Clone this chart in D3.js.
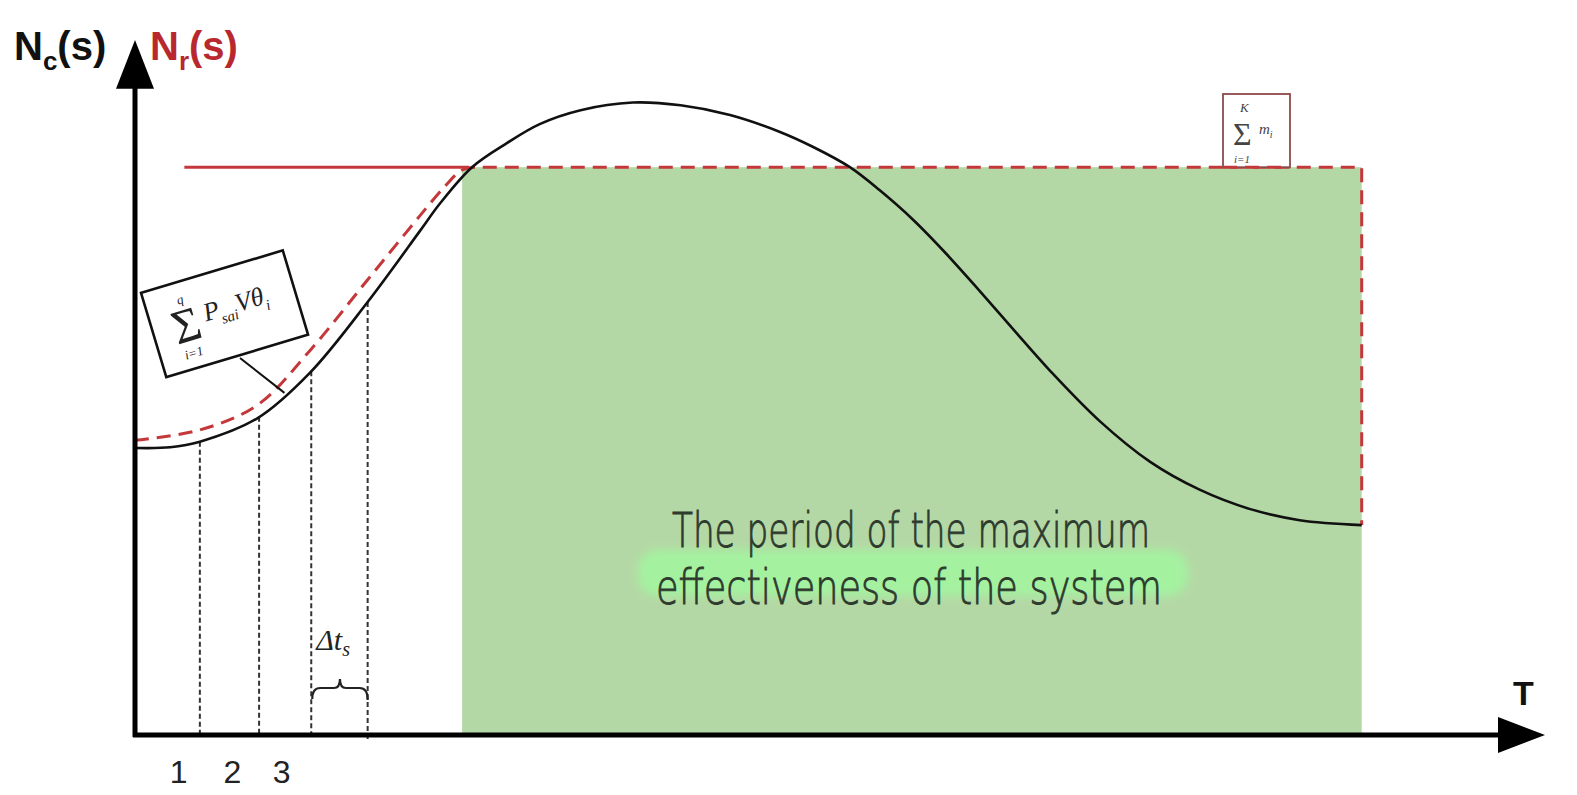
<!DOCTYPE html>
<html>
<head>
<meta charset="utf-8">
<script src="https://cdn.jsdelivr.net/npm/d3@7"></script>
<style>
  body { margin: 0; background: #fff; }
  svg { display: block; }
</style>
</head>
<body>
<div class="mainVis"></div>
<script>
// curve readings, T and N in arbitrary units (0..100 along each axis)
var curveT = [0, 2.5, 4.6, 8.7, 12.4, 16.5, 20.2, 21.6, 23.9, 26.4, 28.7, 31.6, 35.3, 38.7, 42.2, 45.7, 48.1, 50.7, 52.8, 55.2, 57.6, 59.9, 62.4, 64.9, 68.4, 72.0, 75.5, 79.1, 82.6, 87.0]
var curveN = [41.3, 41.4, 42.2, 45.6, 52.1, 62.3, 72.5, 76.4, 81.7, 85.2, 87.9, 89.9, 91.0, 90.6, 89.2, 86.8, 84.6, 81.7, 78.4, 74.1, 69.1, 63.9, 58.1, 52.4, 45.2, 39.3, 35.3, 32.5, 30.9, 30.2]

var reqT = [0, 4.6, 8.7, 12.4, 16.5, 20.2, 22.0, 23.2, 24.3]
var reqN = [42.4, 43.9, 47.5, 55.3, 65.5, 74.7, 79.0, 81.3, 81.7]

var levelN = 81.7
var levelStartT = 3.5
var periodStart = 23.2
var periodEnd = 87.0

var stepT = [4.6, 8.8, 12.5, 16.5]
var tickLabels = ["1", "2", "3"]
var tickT = [3.1, 6.9, 10.4]

var width = 1577
var height = 795

var svg = d3.select(".mainVis")
    .append("svg")
    .attr("width", width)
    .attr("height", height)

var x = d3.scaleLinear().domain([0, 100]).range([135, 1545])
var y = d3.scaleLinear().domain([0, 100]).range([735, 40])

var red = "#c4373a"

var defs = svg.append("defs")
defs.append("filter").attr("id", "glow")
    .attr("x", "-20%").attr("y", "-50%").attr("width", "140%").attr("height", "200%")
    .append("feGaussianBlur").attr("stdDeviation", 5)

// green period
svg.append("rect")
    .attr("x", x(periodStart))
    .attr("y", y(levelN))
    .attr("width", x(periodEnd) - x(periodStart))
    .attr("height", y(0) - y(levelN))
    .attr("fill", "#b4d8a5")

// glow behind the caption
svg.append("rect")
    .attr("x", 638).attr("y", 550)
    .attr("width", 550).attr("height", 46)
    .attr("rx", 20)
    .attr("fill", "#a4f2a0")
    .attr("filter", "url(#glow)")

var caption = ["The period of the maximum", "effectiveness of the system"]
var capLen = [478, 506]
var capX = [672, 656]
var capY = [547, 603.5]
var capText = svg.append("text")
    .style("font-family", "DejaVu Sans")
    .style("font-weight", 200)
    .style("font-size", "48px")
    .attr("fill", "#2e3a2e")
    .attr("stroke", "#2e3a2e")
    .attr("stroke-width", 0.9)
capText.selectAll("tspan")
    .data(caption)
    .enter()
    .append("tspan")
    .attr("x", function(d, i) { return capX[i]; })
    .attr("y", function(d, i) { return capY[i]; })
    .attr("textLength", function(d, i) { return capLen[i]; })
    .attr("lengthAdjust", "spacingAndGlyphs")
    .text(function(d) { return d; })

var curvePts = curveT.map(function(t, i) { return [t, curveN[i]]; })
var reqPts = reqT.map(function(t, i) { return [t, reqN[i]]; })

function interpN(t) {
    for (var i = 1; i < curveT.length; i++) {
        if (t <= curveT[i]) {
            var f = (t - curveT[i - 1]) / (curveT[i] - curveT[i - 1])
            return curveN[i - 1] + f * (curveN[i] - curveN[i - 1])
        }
    }
    return curveN[curveN.length - 1]
}

// dotted step lines
svg.selectAll(".step")
    .data(stepT)
    .enter()
    .append("line")
    .attr("class", "step")
    .attr("x1", function(d) { return x(d); })
    .attr("x2", function(d) { return x(d); })
    .attr("y1", function(d) { return y(interpN(d)); })
    .attr("y2", function(d, i) { return i == stepT.length - 1 ? y(-1) : y(0); })
    .attr("stroke", "#333")
    .attr("stroke-width", 2)
    .attr("stroke-dasharray", "5,3")

// red required level
svg.append("line")
    .attr("x1", x(levelStartT)).attr("x2", x(periodStart + 0.5))
    .attr("y1", y(levelN)).attr("y2", y(levelN))
    .attr("stroke", red)
    .attr("stroke-width", 3)

var line = d3.line()
    .x(function(d) { return x(d[0]); })
    .y(function(d) { return y(d[1]); })

var reqPath = reqPts.concat([[periodEnd, levelN], [periodEnd, curveN[curveN.length - 1]]])
svg.append("path")
    .attr("d", d3.line()
        .x(function(d) { return x(d[0]); })
        .y(function(d) { return y(d[1]); })
        .curve(d3.curveCatmullRom)(reqPts) +
        line(reqPath.slice(reqPts.length - 1)).replace("M", "L"))
    .attr("fill", "none")
    .attr("stroke", red)
    .attr("stroke-width", 3)
    .attr("stroke-dasharray", "14,8")

// black capability curve
svg.append("path")
    .attr("d", line.curve(d3.curveCatmullRom)(curvePts))
    .attr("fill", "none")
    .attr("stroke", "#111")
    .attr("stroke-width", 2.6)

// axes
svg.append("line")
    .attr("x1", x(0)).attr("x2", x(0))
    .attr("y1", y(0) + 2).attr("y2", y(94))
    .attr("stroke", "#000").attr("stroke-width", 5)
svg.append("line")
    .attr("x1", x(0) - 2).attr("x2", x(97))
    .attr("y1", y(0)).attr("y2", y(0))
    .attr("stroke", "#000").attr("stroke-width", 5)

svg.append("path")
    .attr("d", "M" + x(0) + "," + y(100) + "L" + (x(0) + 19) + "," + y(93) + "L" + (x(0) - 19) + "," + y(93) + "Z")
    .attr("fill", "#000")
svg.append("path")
    .attr("d", "M" + x(100) + "," + y(0) + "L" + (x(100) - 47) + "," + (y(0) - 18) + "L" + (x(100) - 47) + "," + (y(0) + 18) + "Z")
    .attr("fill", "#000")

// axis labels
var labelFont = "Liberation Sans, Arial, sans-serif"
var nc = svg.append("text")
    .attr("x", 14).attr("y", 60)
    .style("font-family", labelFont).style("font-weight", "bold").style("font-size", "40px")
    .attr("fill", "#111")
nc.append("tspan").text("N")
nc.append("tspan").attr("dy", 10).style("font-size", "26px").text("c")
nc.append("tspan").attr("dy", -10).text("(s)")

var nr = svg.append("text")
    .attr("x", 150).attr("y", 60)
    .style("font-family", labelFont).style("font-weight", "bold").style("font-size", "40px")
    .attr("fill", "#b8282e")
nr.append("tspan").text("N")
nr.append("tspan").attr("dy", 10).style("font-size", "26px").text("r")
nr.append("tspan").attr("dy", -10).text("(s)")

svg.append("text")
    .attr("x", 1513).attr("y", 705)
    .style("font-family", labelFont).style("font-weight", "bold").style("font-size", "34px")
    .attr("fill", "#111")
    .text("T")

svg.selectAll(".tickLabel")
    .data(tickLabels)
    .enter()
    .append("text")
    .attr("class", "tickLabel")
    .attr("x", function(d, i) { return x(tickT[i]); })
    .attr("y", 783)
    .attr("text-anchor", "middle")
    .style("font-family", labelFont).style("font-size", "32px")
    .attr("fill", "#222")
    .text(function(d) { return d; })

// delta t brace
var bl = x(stepT[2]) + 1, br = x(stepT[3]), bm = (bl + br) / 2
var by = 688
svg.append("path")
    .attr("d", "M" + bl + "," + (by + 11) +
        "Q" + bl + "," + by + " " + (bl + 8) + "," + by +
        "L" + (bm - 6) + "," + by +
        "Q" + bm + "," + by + " " + bm + "," + (by - 9) +
        "Q" + bm + "," + by + " " + (bm + 6) + "," + by +
        "L" + (br - 8) + "," + by +
        "Q" + br + "," + by + " " + br + "," + (by + 12))
    .attr("fill", "none").attr("stroke", "#222").attr("stroke-width", 2.2)

var dt = svg.append("text")
    .attr("x", bl + 4).attr("y", 650)
    .style("font-family", "Liberation Serif, serif").style("font-style", "italic").style("font-size", "30px")
    .attr("fill", "#222")
dt.append("tspan").text("Δt")
dt.append("tspan").attr("dy", 6).style("font-size", "20px").text("s")

// formula box with leader
svg.append("line")
    .attr("x1", 240).attr("y1", 358)
    .attr("x2", x(10.6)).attr("y2", y(interpN(10.6)) - 2)
    .attr("stroke", "#111").attr("stroke-width", 2)

var box = svg.append("g")
    .attr("transform", "translate(" + x(6.35) + "," + y(60.6) + ") rotate(-16.7)")
box.append("rect")
    .attr("x", -74).attr("y", -44)
    .attr("width", 148).attr("height", 88)
    .attr("fill", "#fff").attr("stroke", "#111").attr("stroke-width", 2.6)
var serif = "Liberation Serif, DejaVu Serif, serif"
box.append("text").attr("x", -54).attr("y", 16)
    .style("font-family", serif).style("font-size", "48px").attr("fill", "#222").text("Σ")
box.append("text").attr("x", -42).attr("y", -22)
    .style("font-family", serif).style("font-style", "italic").style("font-size", "13px").attr("fill", "#222").text("q")
box.append("text").attr("x", -50).attr("y", 33)
    .style("font-family", serif).style("font-style", "italic").style("font-size", "13px").attr("fill", "#222").text("i=1")
var fm = box.append("text").attr("x", -20).attr("y", 2)
    .style("font-family", serif).style("font-style", "italic").style("font-size", "26px").attr("fill", "#222")
fm.append("tspan").text("P")
fm.append("tspan").attr("dy", 7).style("font-size", "15px").text("sai")
fm.append("tspan").attr("dy", -7).text("Vθ")
fm.append("tspan").attr("dy", 7).style("font-size", "15px").text("i")

// sum of m_i box
var sb = svg.append("g").attr("transform", "translate(1223,94)")
sb.append("rect")
    .attr("width", 67).attr("height", y(levelN) - 94)
    .attr("fill", "#fff").attr("stroke", "#8e4a4a").attr("stroke-width", 1.8)
sb.append("text").attr("x", 10).attr("y", 51)
    .style("font-family", serif).style("font-size", "32px").attr("fill", "#444").text("Σ")
sb.append("text").attr("x", 17).attr("y", 18)
    .style("font-family", serif).style("font-style", "italic").style("font-size", "13px").attr("fill", "#444").text("K")
sb.append("text").attr("x", 11).attr("y", 69)
    .style("font-family", serif).style("font-style", "italic").style("font-size", "11px").attr("fill", "#444").text("i=1")
var mi = sb.append("text").attr("x", 36).attr("y", 40)
    .style("font-family", serif).style("font-style", "italic").style("font-size", "15px").attr("fill", "#444")
mi.append("tspan").text("m")
mi.append("tspan").attr("dy", 4).style("font-size", "10px").text("i")

// redraw dashed top over the box edge
svg.append("line")
    .attr("x1", 1223).attr("x2", 1290)
    .attr("y1", y(levelN)).attr("y2", y(levelN))
    .attr("stroke", red).attr("stroke-width", 3).attr("stroke-dasharray", "14,8")
</script>
</body>
</html>
